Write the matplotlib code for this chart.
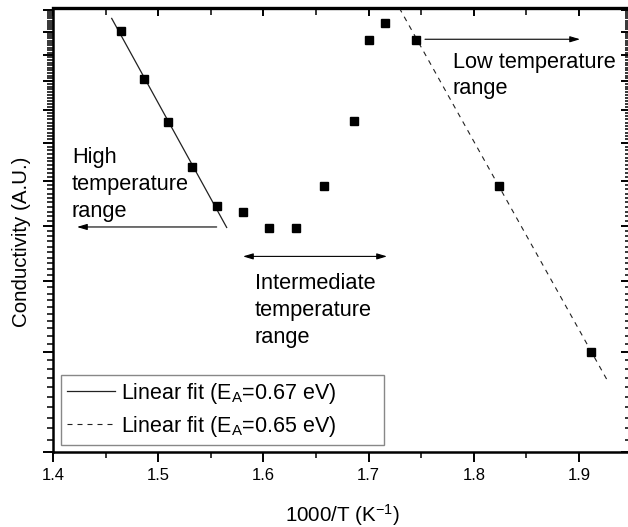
import matplotlib
matplotlib.use('Agg')
import matplotlib.pyplot as plt
import numpy as np
from matplotlib.ticker import FixedLocator, NullFormatter, MultipleLocator, FormatStrFormatter

plt.rcParams['font.family'] = ['Liberation Sans', 'DejaVu Sans']
plt.rcParams['mathtext.fontset'] = 'custom'
plt.rcParams['mathtext.rm'] = 'Liberation Sans'
plt.rcParams['mathtext.it'] = 'Liberation Sans:italic'

# ---- data ----
inv_T = [1.4646, 1.4865, 1.5096, 1.5324, 1.5556, 1.5803, 1.6056, 1.6310,
         1.6579, 1.6864, 1.7007, 1.7153, 1.7451, 1.8243, 1.9115]
conductivity = [11.02, 9.06, 7.63, 6.36, 5.43, 5.29, 4.95, 4.95,
                5.88, 7.65, 10.63, 11.37, 10.63, 5.88, 3.00]

fit_high_x = [1.4558, 1.5651]
fit_high_y = [11.60, 4.97]
fit_low_x = [1.7292, 1.9279]
fit_low_y = [12.10, 2.654]

fit_labels = [r'Linear fit (E$_\mathregular{A}$=0.67 eV)',
              r'Linear fit (E$_\mathregular{A}$=0.65 eV)']

x_major_ticks = [1.4, 1.5, 1.6, 1.7, 1.8, 1.9]
y_major_ticks = [2, 3, 4, 5, 6, 7, 8, 9, 10, 11, 12]

# ---- figure ----
W, H = 628, 527
PX = 72 / 100  # points per pixel
fig = plt.figure(figsize=(W / 100, H / 100), dpi=100)
ax_left, ax_right, ax_top, ax_bottom = 53, 631.6, 8, 452
ax = fig.add_axes([ax_left / W, (H - ax_bottom) / H,
                   (ax_right - ax_left) / W, (ax_bottom - ax_top) / H])

ax.plot(inv_T, conductivity, linestyle='none', marker='s', markersize=6.3,
        color='black', zorder=3)
ax.plot(fit_high_x, fit_high_y, color='#222222', lw=0.9, label=fit_labels[0])
ax.plot(fit_low_x, fit_low_y, color='#222222', lw=0.8, dashes=(4.5, 4.5),
        label=fit_labels[1])

ax.set_yscale('log')
ax.set_xlim(1.4, 1.95)
ax.set_ylim(2, 12.1)

y_minor = np.arange(2.0, 12.1, 0.1)
ax.yaxis.set_major_locator(FixedLocator(y_major_ticks))
ax.yaxis.set_minor_locator(FixedLocator(y_minor))
ax.yaxis.set_major_formatter(NullFormatter())
ax.yaxis.set_minor_formatter(NullFormatter())
ax.xaxis.set_major_locator(FixedLocator(x_major_ticks))
ax.xaxis.set_minor_locator(MultipleLocator(0.05))
ax.xaxis.set_major_formatter(FormatStrFormatter('%.1f'))

ax.tick_params(which='major', direction='out', length=10 * PX, width=1.4,
               labelsize=12, pad=4.5, colors='black')
ax.tick_params(which='minor', direction='out', length=6 * PX, width=1.1)
for s in ax.spines.values():
    s.set_linewidth(1.8)

secx = ax.secondary_xaxis('top')
secx.xaxis.set_major_locator(FixedLocator(x_major_ticks))
secx.xaxis.set_minor_locator(MultipleLocator(0.05))
secx.xaxis.set_major_formatter(NullFormatter())
secx.tick_params(which='major', direction='in', length=8 * PX, width=1.4)
secx.tick_params(which='minor', direction='in', length=7 * PX, width=1.1)
secx.spines['top'].set_linewidth(2.4)

secy = ax.secondary_yaxis('right')
secy.yaxis.set_major_locator(FixedLocator(y_major_ticks))
secy.yaxis.set_minor_locator(FixedLocator(y_minor))
secy.yaxis.set_major_formatter(NullFormatter())
secy.yaxis.set_minor_formatter(NullFormatter())
secy.tick_params(which='major', direction='in', length=11 * PX, width=1.4)
secy.tick_params(which='minor', direction='in', length=7 * PX, width=1.1)

# ---- annotations ----
arrow = dict(arrowstyle='-|>,head_length=0.6,head_width=0.18', color='black',
             lw=0.8, shrinkA=0, shrinkB=0, mutation_scale=10)
darrow = dict(arrowstyle='<|-|>,head_length=0.6,head_width=0.18', color='black',
              lw=0.8, shrinkA=0, shrinkB=0, mutation_scale=10)

ax.annotate('', xy=(1.4228, 4.98), xytext=(1.5556, 4.98), arrowprops=arrow)
ax.annotate('', xy=(1.5806, 4.42), xytext=(1.7175, 4.42), arrowprops=darrow)
ax.annotate('', xy=(1.9010, 10.66), xytext=(1.7536, 10.66), arrowprops=arrow)

tfs = 15.7
ax.text(1.418, 6.88, 'High\ntemperature\nrange', fontsize=tfs, va='top',
        ha='left', linespacing=1.36)
ax.text(1.592, 4.13, 'Intermediate\ntemperature\nrange', fontsize=tfs,
        va='top', ha='left', linespacing=1.36)
ax.text(1.7802, 10.13, 'Low temperature\nrange', fontsize=tfs, va='top',
        ha='left', linespacing=1.3)

leg = ax.legend(loc='lower left', bbox_to_anchor=(0.0133, 0.0158, 0.558, 0.16),
                mode='expand', borderaxespad=0, fontsize=15.5,
                handlelength=2.2, handletextpad=0.3, borderpad=0.3,
                labelspacing=0.35, frameon=True, fancybox=False,
                edgecolor='#888888', framealpha=1)
leg.get_frame().set_linewidth(1.0)

fig.text(342 / W, 1 - 521.5 / H, r'1000/T (K$^\mathregular{-1}$)',
         fontsize=14.8, ha='center', va='baseline')
fig.text(22 / W, 1 - 242 / H, 'Conductivity (A.U.)', rotation=90,
         fontsize=14.8, ha='center', va='center')

fig.savefig('out.png', dpi=100)
